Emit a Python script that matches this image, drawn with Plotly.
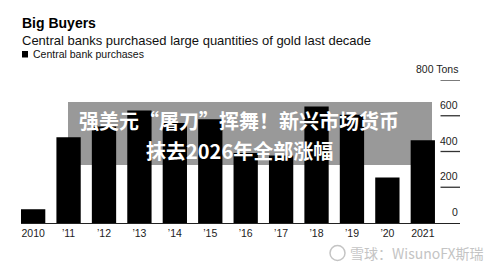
import plotly.graph_objects as go

# ---- data ----
years = ["2010", "’11", "’12", "’13", "’14", "’15", "’16", "’17", "’18", "’19", "’20", "2021"]
purchases = [77, 480, 540, 630, 560, 580, 392, 378, 652, 605, 255, 463]
ytick_vals = [0, 200, 400, 600, 800]
ytick_text = ["0", "200", "400", "600", "800 Tons"]

title = "Big Buyers"
subtitle = "Central banks purchased large quantities of gold last decade"
legend_label = "Central bank purchases"
banner_lines = ["强美元“屠刀”挥舞！新兴市场货币", "抹去2026年全部涨幅"]
watermark = "雪球：WisunoFX斯瑞"

# ---- layout geometry ----
W, H = 500, 267
ML, MR, MT, MB = 21, 40, 80, 44
PW, PH = W - ML - MR, H - MT - MB
BAR_W = 0.686
X_MAX = len(years) - 1 + 1.05


def px(x):
    return (x - ML) / PW


def py(y):
    return (H - MB - y) / PH


FONT = "Liberation Sans, Arial, sans-serif"
CJK = "Noto Sans CJK SC"

fig = go.Figure()
fig.add_trace(go.Bar(
    x=list(range(len(years))), y=purchases, width=BAR_W,
    marker=dict(color="#000000", line=dict(width=0)),
    hoverinfo="skip", showlegend=False,
))

annotations = []
shapes = []

# right-side tick labels with short tick lines below
for v, t in zip(ytick_vals, ytick_text):
    annotations.append(dict(
        x=1, xref="paper", y=v, yref="y", text=t, showarrow=False,
        xanchor="right", yanchor="bottom", yshift=3,
        font=dict(family=FONT, size=10.5, color="#222222"),
    ))
    if v > 0:
        shapes.append(dict(
            type="line", xref="x", yref="y",
            x0=len(years) - 0.5, x1=X_MAX, y0=v, y1=v,
            line=dict(color="#333333", width=1.3),
        ))

# title block
annotations += [
    dict(x=px(20), y=py(22.5), xref="paper", yref="paper", text="<b>" + title + "</b>",
         showarrow=False, xanchor="left", yanchor="middle",
         font=dict(family=FONT, size=14, color="#000000")),
    dict(x=px(20), y=py(40.5), xref="paper", yref="paper", text=subtitle,
         showarrow=False, xanchor="left", yanchor="middle",
         font=dict(family=FONT, size=13, color="#111111")),
    dict(x=px(31), y=py(54), xref="paper", yref="paper", text=legend_label,
         showarrow=False, xanchor="left", yanchor="middle",
         font=dict(family=FONT, size=10.5, color="#111111")),
]
shapes.append(dict(type="rect", xref="paper", yref="paper",
                   x0=px(22), x1=px(28), y0=py(57.5), y1=py(51),
                   fillcolor="#000000", line=dict(width=0)))

# banner overlay
shapes.append(dict(type="rect", xref="paper", yref="paper", layer="above",
                   x0=px(68), x1=px(432), y0=py(165), y1=py(102),
                   fillcolor="rgba(0,0,0,0.4)", line=dict(width=0)))
annotations += [
    dict(x=px(239), y=py(120), xref="paper", yref="paper", text="<b>" + banner_lines[0] + "</b>",
         showarrow=False, xanchor="center", yanchor="middle",
         font=dict(family=CJK, size=20, color="#ffffff")),
    dict(x=px(239), y=py(150), xref="paper", yref="paper", text="<b>" + banner_lines[1] + "</b>",
         showarrow=False, xanchor="center", yanchor="middle",
         font=dict(family=CJK, size=20, color="#ffffff")),
]

# watermark
annotations.append(dict(x=px(348), y=py(253), xref="paper", yref="paper", text=watermark,
                        showarrow=False, xanchor="left", yanchor="middle",
                        font=dict(family=CJK, size=14, color="#c4c4c4")))
shapes.append(dict(type="circle", xref="paper", yref="paper",
                   x0=px(330), x1=px(345), y0=py(260.5), y1=py(245.5),
                   line=dict(color="#c4c4c4", width=1.5)))

fig.update_layout(
    width=W, height=H,
    margin=dict(l=ML, r=MR, t=MT, b=MB, pad=0),
    paper_bgcolor="#ffffff", plot_bgcolor="#ffffff",
    showlegend=False,
    bargap=0.3,
    xaxis=dict(
        range=[-BAR_W / 2, X_MAX], tickmode="array",
        tickvals=list(range(len(years))), ticktext=years,
        showgrid=False, zeroline=False, showline=True,
        linecolor="#222222", linewidth=1.3, ticks="",
        tickfont=dict(family=FONT, size=10.5, color="#222222"),
        fixedrange=True,
    ),
    yaxis=dict(range=[0, 800], showgrid=False, zeroline=False,
               showticklabels=False, showline=False, fixedrange=True),
    annotations=annotations,
    shapes=shapes,
)

fig.write_html("out.html")
